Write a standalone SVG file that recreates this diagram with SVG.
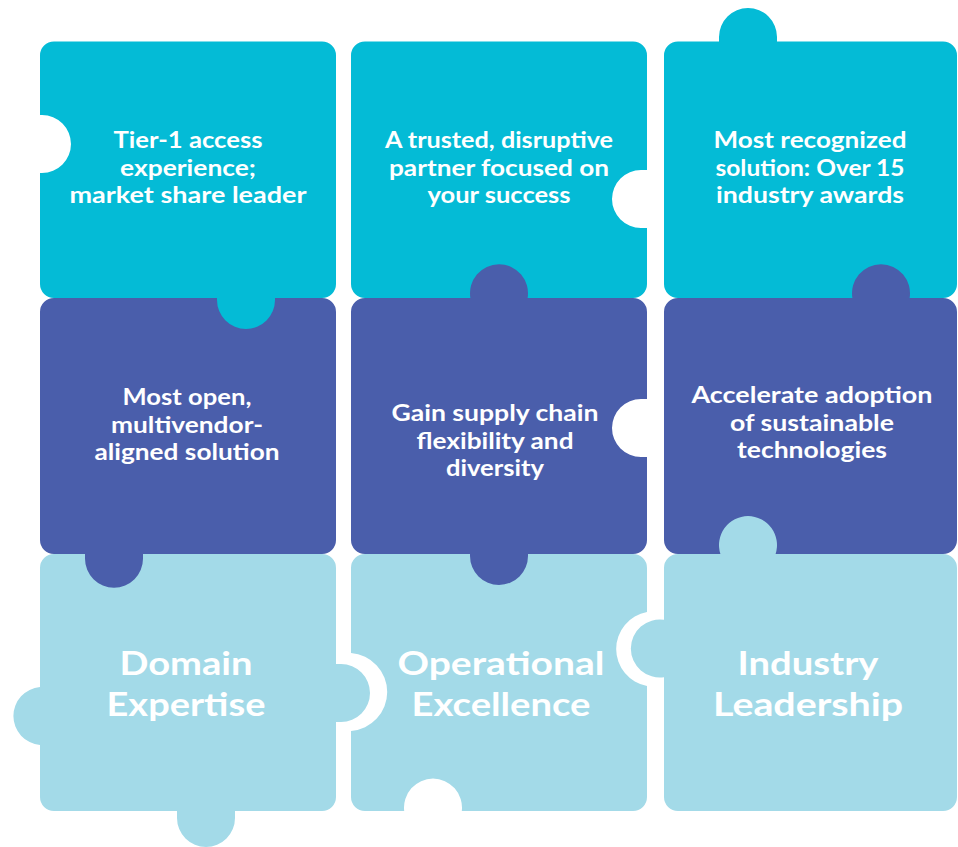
<svg xmlns="http://www.w3.org/2000/svg" width="958" height="847" viewBox="0 0 958 847">
<style>
.cyan{fill:#04BBD6}
.dark{fill:#4A5EAB}
.light{fill:#A3DAE8}
.t{font-family:Lato,"Liberation Sans",sans-serif;font-weight:700;font-size:22.5px;fill:#fff;text-anchor:middle}
.h{font-family:Lato,"Liberation Sans",sans-serif;font-weight:700;font-size:32px;fill:#fff;text-anchor:middle}
</style>
<rect width="958" height="847" fill="#fff"/>
<g id="p12">
<path class="cyan" d="M365 41.5 H633 A14 14 0 0 1 647 55.5 V170 H641 A29 29 0 0 0 641 228 H647 V284 A14 14 0 0 1 633 298 H365 A14 14 0 0 1 351 284 V55.5 A14 14 0 0 1 365 41.5 Z"/>
<text class="t" x="499" y="148" textLength="228" lengthAdjust="spacingAndGlyphs">A trusted, disruptive</text>
<text class="t" x="499" y="175.5" textLength="220" lengthAdjust="spacingAndGlyphs">partner focused on</text>
<text class="t" x="499" y="203" textLength="143" lengthAdjust="spacingAndGlyphs">your success</text>
</g>
<g id="p13">
<path class="cyan" d="M678 41.5 H719 V37 A29 29 0 0 1 777 37 V41.5 H943 A14 14 0 0 1 957 55.5 V284 A14 14 0 0 1 943 298 H678 A14 14 0 0 1 664 284 V55.5 A14 14 0 0 1 678 41.5 Z"/>
<text class="t" x="810" y="148" textLength="193" lengthAdjust="spacingAndGlyphs">Most recognized</text>
<text class="t" x="810" y="175.5" textLength="189" lengthAdjust="spacingAndGlyphs">solution: Over 15</text>
<text class="t" x="810" y="203" textLength="188" lengthAdjust="spacingAndGlyphs">industry awards</text>
</g>
<g id="p32">
<path class="light" d="M365 554 H633 A14 14 0 0 1 647 568 V612.1 A37.5 37.5 0 0 0 647 685.9 V797 A14 14 0 0 1 633 811 H461.8 A29 29 0 1 0 404.2 811 H365 A14 14 0 0 1 351 797 V730.9 A39 39 0 0 0 351 653.1 V568 A14 14 0 0 1 365 554 Z"/>
<text class="h" x="501" y="675" textLength="207" lengthAdjust="spacingAndGlyphs">Operational</text>
<text class="h" x="501" y="716" textLength="179" lengthAdjust="spacingAndGlyphs">Excellence</text>
</g>
<g id="p23">
<path class="dark" d="M678 298 H852.4 A29 29 0 1 1 909.6 298 H943 A14 14 0 0 1 957 312 V540 A14 14 0 0 1 943 554 H678 A14 14 0 0 1 664 540 V312 A14 14 0 0 1 678 298 Z"/>
<text class="t" x="812" y="403" textLength="241" lengthAdjust="spacingAndGlyphs">Accelerate adoption</text>
<text class="t" x="812" y="430.5" textLength="164" lengthAdjust="spacingAndGlyphs">of sustainable</text>
<text class="t" x="812" y="458" textLength="150" lengthAdjust="spacingAndGlyphs">technologies</text>
</g>
<g id="p33">
<path class="light" d="M678 554 H720.4 A29 29 0 1 1 775.6 554 H943 A14 14 0 0 1 957 568 V797 A14 14 0 0 1 943 811 H678 A14 14 0 0 1 664 797 V677.2 A29 29 0 1 1 664 619.8 V568 A14 14 0 0 1 678 554 Z"/>
<text class="h" x="808" y="675" textLength="141" lengthAdjust="spacingAndGlyphs">Industry</text>
<text class="h" x="808" y="716" textLength="190" lengthAdjust="spacingAndGlyphs">Leadership</text>
</g>
<g id="p22">
<path class="dark" d="M365 298 H470.4 A29 29 0 1 1 527.6 298 H633 A14 14 0 0 1 647 312 V399 H641 A29 29 0 0 0 641 457 H647 V540 A14 14 0 0 1 633 554 H528 V556 A29 29 0 0 1 470 556 V554 H365 A14 14 0 0 1 351 540 V312 A14 14 0 0 1 365 298 Z"/>
<text class="t" x="495" y="421" textLength="207" lengthAdjust="spacingAndGlyphs">Gain supply chain</text>
<text class="t" x="495" y="448.5" textLength="157" lengthAdjust="spacingAndGlyphs">flexibility and</text>
<text class="t" x="495" y="476" textLength="98" lengthAdjust="spacingAndGlyphs">diversity</text>
</g>
<g id="p31">
<path class="light" d="M54 554 H322 A14 14 0 0 1 336 568 V664 H341 A29 29 0 0 1 341 722 H336 V797 A14 14 0 0 1 322 811 H235 V818 A29 29 0 0 1 177 818 V811 H54 A14 14 0 0 1 40 797 V744.9 A29 29 0 0 1 40 687.1 V568 A14 14 0 0 1 54 554 Z"/>
<text class="h" x="186" y="675" textLength="133" lengthAdjust="spacingAndGlyphs">Domain</text>
<text class="h" x="186" y="716" textLength="159" lengthAdjust="spacingAndGlyphs">Expertise</text>
</g>
<g id="p21">
<path class="dark" d="M54 298 H322 A14 14 0 0 1 336 312 V540 A14 14 0 0 1 322 554 H143 V558.7 A29 29 0 0 1 85 558.7 V554 H54 A14 14 0 0 1 40 540 V312 A14 14 0 0 1 54 298 Z"/>
<text class="t" x="187" y="405" textLength="129" lengthAdjust="spacingAndGlyphs">Most open,</text>
<text class="t" x="187" y="432.5" textLength="152" lengthAdjust="spacingAndGlyphs">multivendor-</text>
<text class="t" x="187" y="460" textLength="185" lengthAdjust="spacingAndGlyphs">aligned solution</text>
</g>
<g id="p11">
<path class="cyan" d="M54 41.5 H322 A14 14 0 0 1 336 55.5 V284 A14 14 0 0 1 322 298 H275 V300 A29 29 0 0 1 217 300 V298 H54 A14 14 0 0 1 40 284 V173 H42 A29 29 0 0 0 42 115 H40 V55.5 A14 14 0 0 1 54 41.5 Z"/>
<text class="t" x="188" y="148" textLength="149" lengthAdjust="spacingAndGlyphs">Tier-1 access</text>
<text class="t" x="188" y="175.5" textLength="136" lengthAdjust="spacingAndGlyphs">experience;</text>
<text class="t" x="188" y="203" textLength="237" lengthAdjust="spacingAndGlyphs">market share leader</text>
</g>
<g id="connectors"></g>
</svg>
